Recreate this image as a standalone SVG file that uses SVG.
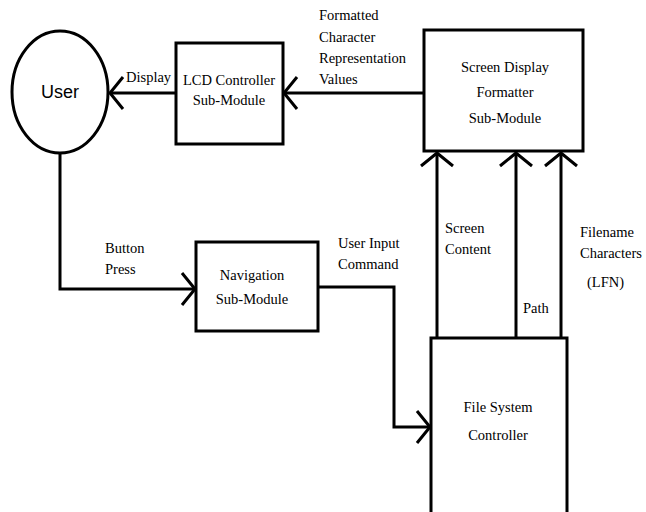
<svg xmlns="http://www.w3.org/2000/svg" width="646" height="512" viewBox="0 0 646 512">
<style>
.box{fill:#fff;stroke:#000;stroke-width:3}
.ln{fill:none;stroke:#000;stroke-width:3}
.t{font-family:'Liberation Serif','DejaVu Serif',serif;font-size:14.5px;fill:#000}
.c{text-anchor:middle}
.u{font-family:'Liberation Sans','DejaVu Sans',sans-serif;font-size:18px;fill:#000}
</style>
<defs>
<marker id="ah" markerUnits="userSpaceOnUse" markerWidth="30" markerHeight="40" refX="0" refY="0" viewBox="-20 -20 30 40" orient="auto" overflow="visible">
<path d="M-13,-16 L0,0 L-13,16" fill="none" stroke="#000" stroke-width="3"/>
</marker>
</defs>
<g id="connectors">
<path class="ln" d="M176,93 L110,93" marker-end="url(#ah)"/>
<path class="ln" d="M425,93 L284,93" marker-end="url(#ah)"/>
<path class="ln" d="M60,153 L60,289 L195,289" marker-end="url(#ah)"/>
<path class="ln" d="M318,287 L394,287 L394,427 L430,427" marker-end="url(#ah)"/>
<path class="ln" d="M437,338 L437,153" marker-end="url(#ah)"/>
<path class="ln" d="M516,338 L516,153" marker-end="url(#ah)"/>
<path class="ln" d="M561,338 L561,153" marker-end="url(#ah)"/>
<g class="t" font-family="Liberation Serif, DejaVu Serif, serif">
<text x="126" y="82">Display</text>
<text x="319" y="20">Formatted</text>
<text x="319" y="42">Character</text>
<text x="319" y="63">Representation</text>
<text x="319" y="84">Values</text>
<text x="105" y="253">Button</text>
<text x="105" y="274">Press</text>
<text x="338" y="248">User Input</text>
<text x="338" y="269">Command</text>
<text x="445" y="233">Screen</text>
<text x="445" y="254">Content</text>
<text x="523" y="313">Path</text>
<text x="580" y="237">Filename</text>
<text x="580" y="258">Characters</text>
<text x="587" y="287">(LFN)</text>
</g>
</g>
<g id="user">
<ellipse cx="60" cy="92" rx="48" ry="61" fill="#fff" stroke="#000" stroke-width="3"/>
<text class="c u" x="60" y="98">User</text>
</g>
<g id="lcd" class="t" font-family="Liberation Serif, DejaVu Serif, serif">
<rect class="box" x="176" y="43" width="107" height="101"/>
<text class="c" x="229" y="85">LCD Controller</text>
<text class="c" x="229" y="105">Sub-Module</text>
</g>
<g id="screen" class="t" font-family="Liberation Serif, DejaVu Serif, serif">
<rect class="box" x="424" y="30" width="159" height="121"/>
<text class="c" x="505" y="72">Screen Display</text>
<text class="c" x="505" y="97">Formatter</text>
<text class="c" x="505" y="123">Sub-Module</text>
</g>
<g id="nav" class="t" font-family="Liberation Serif, DejaVu Serif, serif">
<rect class="box" x="196" y="242" width="122" height="89"/>
<text class="c" x="252" y="280">Navigation</text>
<text class="c" x="252" y="304">Sub-Module</text>
</g>
<g id="fs" class="t" font-family="Liberation Serif, DejaVu Serif, serif">
<rect class="box" x="431" y="338" width="136" height="180"/>
<text class="c" x="498" y="412">File System</text>
<text class="c" x="498" y="440">Controller</text>
</g>
</svg>
